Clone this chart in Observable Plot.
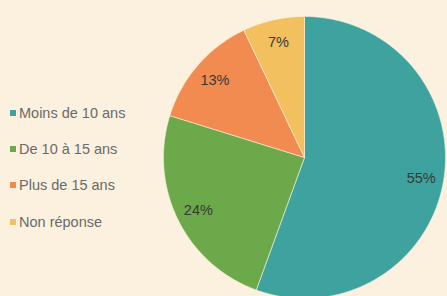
<!DOCTYPE html>
<html>
<head>
<meta charset="utf-8">
<script src="https://cdn.jsdelivr.net/npm/d3@7"></script>
<script src="https://cdn.jsdelivr.net/npm/@observablehq/plot@0.6"></script>
<style>
  html, body { margin: 0; padding: 0; background: #fcf1df; }
  #wrap { position: relative; width: 447px; height: 296px; overflow: hidden; }
  #legend { position: absolute; left: 10px; top: 105px; font-family: "Liberation Sans", Arial, sans-serif; font-size: 14.5px; line-height: 16px; color: #6a6a6a; }
  #legend div { height: 36.2px; display: flex; align-items: flex-start; }
  #legend span.sw { display: inline-block; width: 6px; height: 6px; margin: 5px 3px 0 0; }
</style>
</head>
<body>
<div id="wrap"><div id="legend"></div></div>
<script>
const categories = ["Moins de 10 ans", "De 10 à 15 ans", "Plus de 15 ans", "Non réponse"];
const values = [55, 24, 13, 7];
const labels = ["55%", "24%", "13%", "7%"];
const colors = ["#3ea39f", "#6ba94a", "#f18b50", "#f3c05f"];

const pie = d3.pie().sort(null).value(d => d.value)(categories.map((c, i) => ({cat: c, value: values[i], label: labels[i]})));

// polygon vertices for each slice in unit coordinates (angle 0 at top, clockwise)
const pts = [];
for (const p of pie) {
  pts.push({cat: p.data.cat, x: 0, y: 0});
  const n = Math.max(2, Math.ceil((p.endAngle - p.startAngle) / 0.01));
  for (let k = 0; k <= n; k++) {
    const a = p.startAngle + (p.endAngle - p.startAngle) * k / n;
    pts.push({cat: p.data.cat, x: Math.sin(a), y: Math.cos(a)});
  }
  pts.push({cat: p.data.cat, x: 0, y: 0});
}
const labelPts = pie.map(p => {
  const a = (p.startAngle + p.endAngle) / 2;
  return {label: p.data.label, x: 0.84 * Math.sin(a), y: 0.84 * Math.cos(a)};
});

const W = 447, H = 296, cx = 304, cy = 157, R = 141;
const chart = Plot.plot({
  width: W, height: H,
  margin: 0,
  style: {background: "transparent"},
  x: {domain: [-cx / R, (W - cx) / R], axis: null},
  y: {domain: [-(H - cy) / R, cy / R], axis: null},
  color: {domain: categories, range: colors},
  marks: [
    Plot.line(pts, {x: "x", y: "y", z: "cat", fill: "cat", stroke: "#fcf1df", strokeWidth: 0.6, curve: "linear"}),
    Plot.text(labelPts, {x: "x", y: "y", text: "label", fill: "#383838", fontSize: 14.5, fontFamily: "Liberation Sans, Arial, sans-serif"})
  ]
});
document.getElementById("wrap").prepend(chart);
chart.style.position = "absolute"; chart.style.left = "0"; chart.style.top = "0";

const legend = d3.select("#legend");
categories.forEach((c, i) => {
  const row = legend.append("div");
  row.append("span").attr("class", "sw").style("background", colors[i]);
  row.append("span").text(c);
});
</script>
</body>
</html>
